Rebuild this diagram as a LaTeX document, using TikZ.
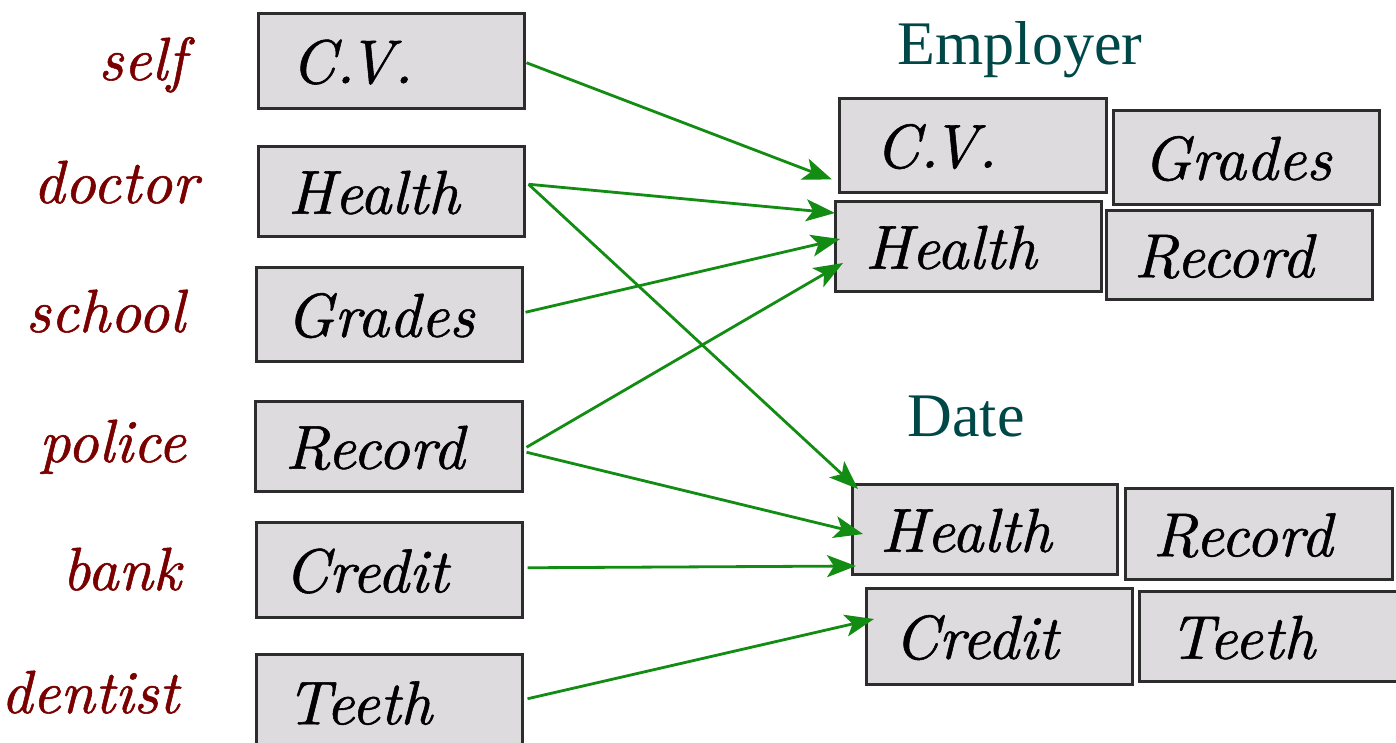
\documentclass[tikz,border=0pt]{standalone}
\usepackage{fontspec}
\newfontfamily\headfont{Liberation Serif}
\newfontfamily\itser{lmroman10-italic.otf}[FakeBold=0.9]
\usetikzlibrary{arrows.meta}
\definecolor{boxgray}{RGB}{221,219,221}
\definecolor{boxline}{RGB}{45,45,45}
\definecolor{lblred}{RGB}{122,0,0}
\definecolor{headteal}{RGB}{0,72,72}
\definecolor{arrgreen}{RGB}{18,140,18}
\newcommand{\bx}[7]{%
  \pgfmathsetmacro\bxw{#4-#2}\pgfmathsetmacro\bxh{#5-#3}\pgfmathsetmacro\bxt{#4-#2-2*#6}%
  \node[box, minimum width=\bxw pt, minimum height=\bxh pt, text width=\bxt pt, inner xsep=#6 pt, anchor=north west] (#1) at (#2,#3) {#7};}
\newcommand{\cvtext}{C.\kern-7pt V.}
\begin{document}
\begin{tikzpicture}[x=1pt,y=-1pt,
  box/.style={draw=boxline, line width=2.5pt, fill=boxgray, align=left, inner ysep=0pt,
    font=\itser\fontsize{62}{70}\selectfont, text height=45pt, text depth=0pt},
  lbl/.style={anchor=base east, text=lblred, font=\itser\fontsize{61}{70}\selectfont, inner sep=0pt},
  head/.style={anchor=base, text=headteal, font=\headfont\fontsize{62}{70}\selectfont, inner sep=0pt},
  conn/.style={draw=arrgreen, line width=2.8pt, -{Stealth[length=29pt,width=22pt,inset=7pt]}}]
\useasboundingbox (0,0) rectangle (1396,742);
% left column
\bx{lCV}{257}{12}{523}{107}{33}{\cvtext}
\bx{lHealth}{257}{145}{523}{235}{30}{Health}
\bx{lGrades}{255}{266}{521}{360}{30}{Grades}
\bx{lRecord}{254}{400}{521}{490}{30}{Record}
\bx{lCredit}{255}{521}{521}{616}{28}{Credit}
\bx{lTeeth}{255}{653}{521}{748}{30}{Teeth}
% labels
\node[lbl] (self) at (186,80) {self};
\node[lbl] (doctor) at (198,203) {doctor};
\node[lbl] (school) at (185,332) {school};
\node[lbl] (police) at (186,462) {police};
\node[lbl] (bank) at (181,590) {bank};
\node[lbl] (dentist) at (179,713) {dentist};
% employer
\node[head] (employer) at (1020,64) {Employer};
\bx{eCV}{838}{97}{1105}{191}{36}{\cvtext}
\bx{eGrades}{1112}{109}{1378}{203}{30}{Grades}
\bx{eHealth}{834}{200}{1100}{290}{30}{Health}
\bx{eRecord}{1105}{209}{1371}{298}{28}{Record}
% date
\node[head] (date) at (966,436) {Date};
\bx{dHealth}{851}{483}{1116}{573}{28}{Health}
\bx{dRecord}{1124}{487}{1391}{578}{28}{Record}
\bx{dCredit}{865}{587}{1131}{683}{28}{Credit}
\bx{dTeeth}{1138}{590}{1404}{680}{30}{Teeth}
% connectors
\draw[conn] ([shift={(1,2)}]lCV.east) -- ([shift={(-6,-14)}]eCV.south west);
\draw[conn] ([shift={(3,-7)}]lHealth.east) -- ([shift={(1,13)}]eHealth.north west);
\draw[conn] ([shift={(3,-7)}]lHealth.east) -- ([shift={(7,6)}]dHealth.north west);
\draw[conn] ([shift={(2,-2)}]lGrades.east) -- ([shift={(6,39)}]eHealth.north west);
\draw[conn] ([shift={(3,1)}]lRecord.east) -- ([shift={(9,63)}]eHealth.north west);
\draw[conn] ([shift={(3,6)}]lRecord.east) -- ([shift={(12,51)}]dHealth.north west);
\draw[conn] ([shift={(4,-2)}]lCredit.east) -- ([shift={(5,83)}]dHealth.north west);
\draw[conn] ([shift={(4,-3)}]lTeeth.east) -- ([shift={(9,32)}]dCredit.north west);
\end{tikzpicture}
\end{document}
